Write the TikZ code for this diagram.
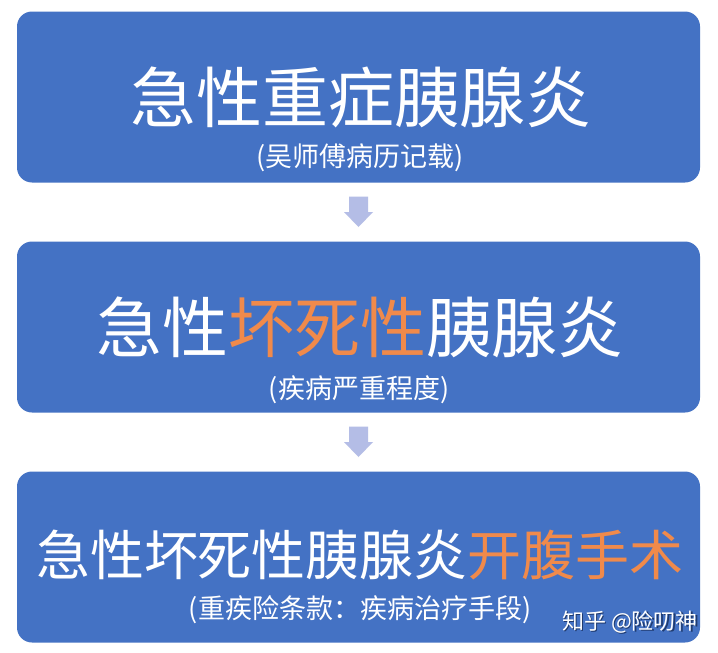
\documentclass[tikz,border=0pt]{standalone}
\usepackage{fontspec}
\setmainfont{Noto Sans CJK SC}
\usetikzlibrary{calc}
\definecolor{boxblue}{HTML}{4472C4}
\definecolor{arrowlav}{HTML}{B4BDE6}
\definecolor{hiorange}{HTML}{F08A4B}
\definecolor{shadowc}{HTML}{1F3A6E}
\begin{document}
\begin{tikzpicture}[x=1pt,y=-1pt,
  panel/.style={fill=boxblue, rounded corners=15pt, minimum width=683pt, minimum height=171pt, inner sep=0pt, draw=none},
  titletext/.style={text=white, inner sep=0pt, anchor=center},
  subtext/.style={text=white, inner sep=0pt, anchor=center, font=\fontsize{27}{30}\selectfont},
  blockarrow/.style={fill=arrowlav, draw=none}]
\useasboundingbox (0,0) rectangle (718,653);
\fill[white] (0,0) rectangle (718,653);

\node[panel] (b1) at (358.5,97) {};
\node[panel] (b2) at (358.5,327) {};
\node[panel] (b3) at (358.5,557) {};

\node[titletext, font=\fontsize{66}{72}\selectfont] (t1) at (361,97) {急性重症胰腺炎};
\node[subtext] (s1) at (360,158) {(吴师傅病历记载)};

\node[titletext, font=\fontsize{66}{72}\selectfont] (t2) at (360,327) {急性\textcolor{hiorange}{坏死性}胰腺炎};
\node[subtext] (s2) at (359,390) {(疾病严重程度)};

\node[titletext, font=\fontsize{54}{60}\selectfont] (t3) at (360,555) {急性坏死性胰腺炎\textcolor{hiorange}{开腹手术}};
\node[subtext] (s3) at (360,610) {(重疾险条款：疾病治疗手段)};

\coordinate (m1) at ($(b1.south)!0.5!(b2.north)$);
\coordinate (m2) at ($(b2.south)!0.5!(b3.north)$);
\foreach \m in {m1,m2}{
  \fill[blockarrow] ($(\m)+(-9.5,-15.5)$) -- ($(\m)+(9.5,-15.5)$) -- ($(\m)+(9.5,0)$) -- ($(\m)+(14.5,0)$) -- ($(\m)+(0,15)$) -- ($(\m)+(-14.5,0)$) -- ($(\m)+(-9.5,0)$) -- cycle;
}

\node[text=shadowc, inner sep=0pt, font=\fontsize{22}{24}\selectfont] at (631.5,623.5) {知乎 @险叨神};
\node[text=white, inner sep=0pt, font=\fontsize{22}{24}\selectfont] (wm) at (630,622) {知乎 @险叨神};
\end{tikzpicture}
\end{document}
